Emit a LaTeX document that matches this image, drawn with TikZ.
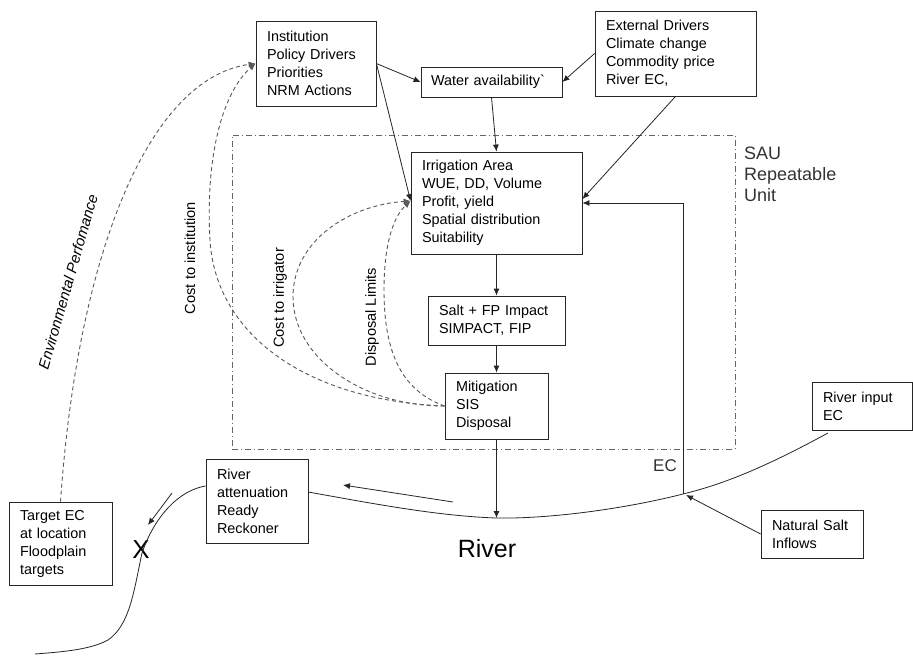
\documentclass[tikz,border=0pt]{standalone}
\usepackage{fontspec}
\setmainfont{Liberation Sans}
\usetikzlibrary{arrows.meta,calc}
\begin{document}
\begin{tikzpicture}[x=1pt,y=-1pt,
  box/.style={draw=black!85, line width=0.8pt, align=left, inner xsep=11pt, inner ysep=0pt, font=\fontsize{14.4}{18}\selectfont},
  arr/.style={draw=black!85, line width=0.8pt, -{Latex[length=7pt,width=6pt]}},
  dsh/.style={draw=black!65, line width=0.9pt, dash pattern=on 4pt off 3pt, -{Latex[length=7pt,width=6pt]}},
  riv/.style={draw=black!85, line width=0.8pt},
  lbl/.style={font=\fontsize{14.6}{16}\selectfont, inner sep=0pt}
]
\useasboundingbox (0,0) rectangle (913,657);
\fill[white] (0,0) rectangle (913,657);

% SAU frame
\node[draw=black!60, line width=0.8pt, dash pattern=on 6pt off 3pt on 1pt off 3pt, minimum width=503pt, minimum height=314pt, inner sep=0pt] (sauframe) at (483.5,292) {};
\node[anchor=north west, font=\fontsize{18}{21}\selectfont, align=left, inner sep=0pt, text=black!80] (sau) at (744,147) {SAU\\Repeatable\\Unit};

% boxes
\node[box, text width=98pt, minimum height=85pt] (inst) at (316,63.5) {Institution\\Policy Drivers\\Priorities\\NRM Actions};
\node[box, inner xsep=10pt, text width=121pt, minimum height=30pt] (water) at (491.5,82) {Water availability\textasciigrave};
\node[box, text width=139pt, minimum height=85pt] (ext) at (675.5,53.5) {External Drivers\\Climate change\\Commodity price\\River EC,};
\node[box, text width=149pt, minimum height=102pt] (irr) at (496.5,203) {Irrigation Area\\WUE, DD, Volume\\Profit, yield\\Spatial distribution\\Suitability};
\node[box, text width=115pt, minimum height=49pt] (salt) at (496.5,320.5) {Salt + FP Impact\\SIMPACT, FIP};
\node[box, text width=81pt, minimum height=66pt] (mit) at (496.5,406) {Mitigation\\SIS\\Disposal};
\node[box, text width=78.5pt, minimum height=48pt] (rinput) at (862.25,406) {River input\\EC};
\node[box, text width=80pt, minimum height=48pt] (nat) at (812,534) {Natural Salt\\Inflows};
\node[box, text width=80pt, minimum height=84pt] (ratt) at (257,501) {River\\attenuation\\Ready\\Reckoner};
\node[box, text width=81pt, minimum height=83pt] (target) at (60.5,543.5) {Target EC\\at location\\Floodplain\\targets};

% labels
\node[font=\fontsize{25}{25}\selectfont, inner sep=0pt] (rivlbl) at (487,549) {River};
\node[font=\fontsize{26}{26}\selectfont, inner sep=0pt] (xlbl) at (141,550) {X};
\node[font=\fontsize{17}{17}\selectfont, text=black!80, inner sep=0pt] (eclbl) at (665,466) {EC};
\node[lbl, rotate=90] (lci) at (190,258) {Cost to institution};
\node[lbl, rotate=90] (lcir) at (280,298) {Cost to irrigator};
\node[lbl, rotate=90] (ldl) at (372,317) {Disposal Limits};
\node[lbl, rotate=74, font=\itshape\fontsize{15}{16}\selectfont] (lep) at (68,282) {Environmental Perfomance};

% coordinates
\coordinate (ecj) at (683,494);
\coordinate (rivlow) at (496,518);
\coordinate (rivstart) at (828,433);
\coordinate (xa) at (172,493);
\coordinate (xb) at (148,525);
\coordinate (ra) at (453,502);
\coordinate (rb) at (343,485);
\coordinate (rend) at (35,654);

% river
\draw[riv] (rivstart) .. controls (760,470) and (720,485) .. (ecj)
  .. controls (620,510) and (545,519) .. (rivlow)
  .. controls (440,516) and (380,505) .. ($(ratt.east)+(0,-9)$);
\draw[riv] ($(ratt.west)+(0,-15)$) .. controls (180,490) and (155,515) .. (142,553)
  .. controls (134,590) and (130,625) .. (108,640)
  .. controls (90,650) and (60,652) .. (rend);

% solid arrows
\draw[arr] (inst.east) -- (water.west);
\draw[arr] (inst.east) -- ($(irr.west)+(0,-2)$);
\draw[arr] (ext.west) -- (water.east);
\draw[arr] (ext.south) -- ($(irr.east)+(0,-4)$);
\draw[arr] (water.south) -- (irr.north);
\draw[arr] (irr.south) -- (salt.north);
\draw[arr] (salt.south) -- (mit.north);
\draw[arr] (mit.south) -- (mit.south |- rivlow);
\draw[arr] (ecj) |- (irr.east);
\draw[arr] (nat.west) -- ($(ecj)+(3,1)$);
\draw[arr] (xa) -- (xb);
\draw[arr] (ra) -- (rb);

% dashed feedbacks
\draw[dsh] (target.north) .. controls (78,250) and (150,78) .. (inst.west);
\draw[dsh] (mit.west) .. controls (300,400) and (215,330) .. (210,240)
  .. controls (205,150) and (225,90) .. (inst.west);
\draw[dsh] (mit.west) .. controls (361,406) and (293,357) .. (293,297)
  .. controls (293,240) and (350,205) .. ($(irr.west)+(0,-2)$);
\draw[dsh] (mit.west) .. controls (400,390) and (384,350) .. (384,290)
  .. controls (384,240) and (395,215) .. ($(irr.west)+(0,-2)$);
\end{tikzpicture}
\end{document}
